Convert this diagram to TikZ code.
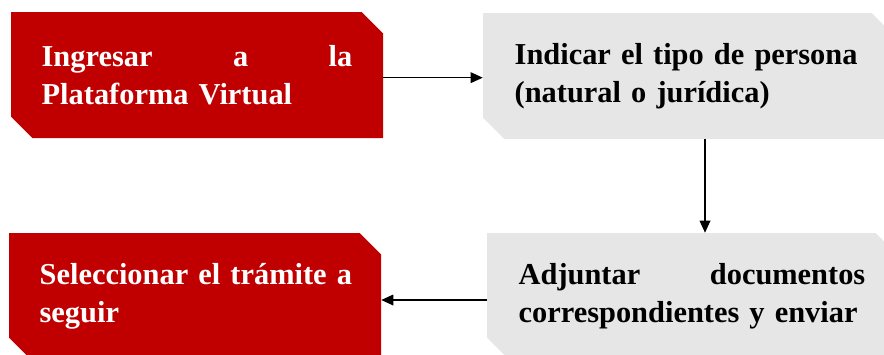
\documentclass[tikz,border=0pt]{standalone}
\usepackage{fontspec}
\setmainfont{Liberation Serif}
\usetikzlibrary{shapes.misc,arrows.meta}
\definecolor{tramred}{HTML}{C00000}
\definecolor{tramgray}{HTML}{E6E6E6}
\tikzstyle{every node}=[chamfered rectangle, chamfered rectangle corners={north east,south west},
    chamfered rectangle sep=8pt, minimum height=94.5pt, inner sep=0pt, align=left,
    font=\fontsize{22.8}{28.5}\selectfont\bfseries]
\tikzstyle{redbox}=[fill=tramred, text=white, minimum width=279pt, text width=233pt]
\tikzstyle{graybox}=[fill=tramgray, text=black, minimum width=307.5pt, text width=260pt]
\tikzstyle{flow}=[-{Triangle[length=9pt,width=8pt]}, line width=0.9pt]

\begin{document}
\begin{tikzpicture}[x=0.75pt, y=-0.75pt]
    \useasboundingbox (0,0) rectangle (884,354);
% Boxes
    \node[redbox] (ingresar) at (197,75) {Ingresar\hfill a\hfill la\\Plataforma Virtual};
    \node[graybox] (indicar) at (688,76) {Indicar el tipo de persona\\(natural o jurídica)};
    \node[graybox] (adjuntar) at (692,296) {Adjuntar\hfill documentos\\correspondientes y enviar};
    \node[redbox] (seleccionar) at (195,296) {\mbox{Seleccionar el trámite a}\\seguir};
% Arrows
    \draw[flow] ([yshift=-2pt]ingresar.east) -- ([yshift=-2pt]ingresar.east -| indicar.west);
    \draw[flow] ([xshift=12.75pt]indicar.south) -- ([xshift=12.75pt]indicar.south |- adjuntar.north);
    \draw[flow] ([yshift=-3pt]adjuntar.west) -- ([yshift=-3pt]adjuntar.west -| seleccionar.east);
\end{tikzpicture}
\end{document}
